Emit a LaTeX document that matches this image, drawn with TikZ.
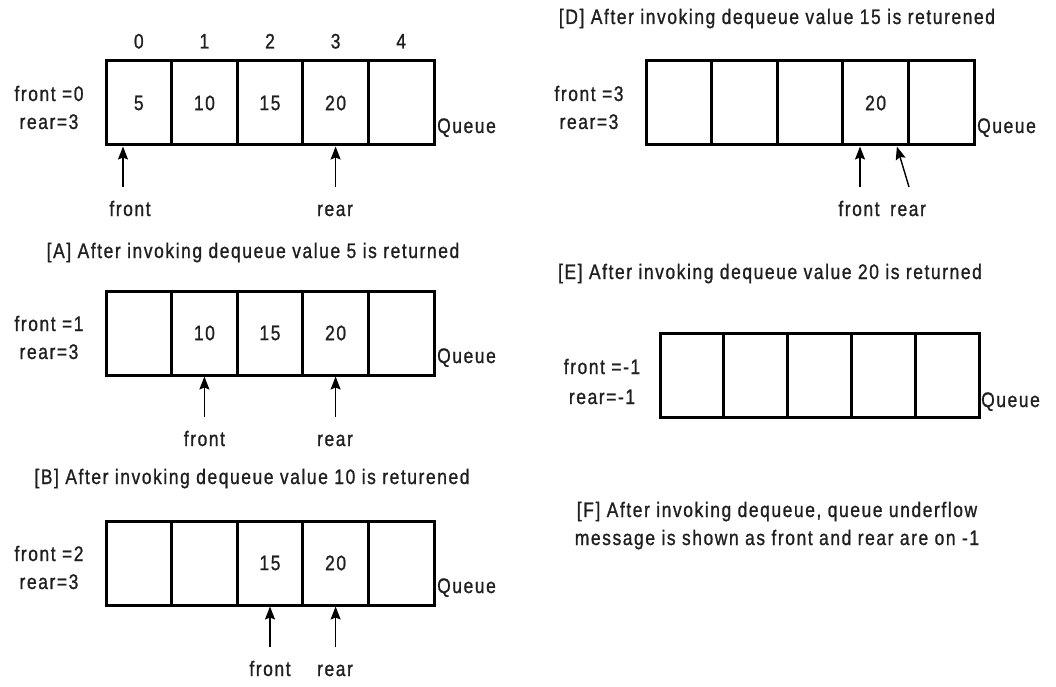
\documentclass[tikz,border=0pt]{standalone}
\usepackage{fontspec}
\setmainfont{Liberation Sans}[FakeStretch=0.83, LetterSpace=7.5, FakeBold=1]
\usetikzlibrary{arrows.meta,calc}
\newcommand{\qrow}[5]{%
  \foreach \v [count=\i from 0] in {#5} {
    \node[cell, minimum width=#4pt] (#1\i) at ({#2+#4*(\i+0.5)}, #3) {\v};
  }%
}
\begin{document}
\begin{tikzpicture}[x=1pt,y=-1pt,
  every node/.style={font=\fontsize{21}{25}\selectfont, text=black!88, inner sep=0pt},
  cell/.style={draw=black, line width=3pt, minimum height=84pt, outer sep=1.5pt},
  lbl/.style={anchor=base},
  qlbl/.style={anchor=base west},
  ptr/.style={line width=1.4pt, -{Stealth[length=13pt,width=10pt,inset=2pt]}}]
\useasboundingbox (0,0) rectangle (1056,687);

% ---------- top panel ----------
\qrow{p}{106}{103}{65.6}{5,10,15,20,{}}
\foreach \i in {0,...,4} { \node[lbl] (idx\i) at ($(p\i.north)+(0,-11)$) {\i}; }
\node[lbl] (pf) at (49,101) {front =0};
\node[lbl] (pr) at (49,129) {rear=3};
\node[qlbl] (pq) at (437,133) {Queue};
\node[lbl] (pfl) at (130,216) {front};
\node[lbl] (prl) at (335,216) {rear};
\coordinate (pft) at (123,187);
\coordinate (prt) at (335.6,187);
\draw[ptr] (pft) -- (pft |- p0.south);
\draw[ptr] (prt) -- (prt |- p3.south);

% ---------- panel A ----------
\node[lbl] (ta) at (253,258) {[A] After invoking dequeue value 5 is returned};
\qrow{a}{106}{333}{65.6}{{},10,15,20,{}}
\node[lbl] (af) at (49,331) {front =1};
\node[lbl] (ar) at (49,359) {rear=3};
\node[qlbl] (aq) at (437,363) {Queue};
\node[lbl] (afl) at (204.4,446) {front};
\node[lbl] (arl) at (335,446) {rear};
\coordinate (aft) at (204.4,417);
\coordinate (art) at (335.6,417);
\draw[ptr] (aft) -- (aft |- a1.south);
\draw[ptr] (art) -- (art |- a3.south);

% ---------- panel B ----------
\node[lbl] (tb) at (252,484) {[B] After invoking dequeue value 10 is returened};
\qrow{b}{106}{563}{65.6}{{},{},15,20,{}}
\node[lbl] (bf) at (49,561) {front =2};
\node[lbl] (br) at (49,589) {rear=3};
\node[qlbl] (bq) at (437,593) {Queue};
\node[lbl] (bfl) at (270,676) {front};
\node[lbl] (brl) at (335,676) {rear};
\coordinate (bft) at (270,647);
\coordinate (brt) at (335.6,647);
\draw[ptr] (bft) -- (bft |- b2.south);
\draw[ptr] (brt) -- (brt |- b3.south);

% ---------- panel D ----------
\node[lbl] (td) at (777,24) {[D] After invoking dequeue value 15 is returened};
\qrow{d}{646}{103}{65.6}{{},{},{},20,{}}
\node[lbl] (df) at (589,101) {front =3};
\node[lbl] (dr) at (589,129) {rear=3};
\node[qlbl] (dq) at (977,133) {Queue};
\node[lbl] (dfl) at (859,216) {front};
\node[lbl] (drl) at (908,216) {rear};
\coordinate (dft) at (860,187);
\coordinate (drt) at (909,187);
\draw[ptr] (dft) -- (dft |- d3.south);
\draw[ptr] (drt) -- ($(d3.south east)+(-13,0)$);

% ---------- panel E ----------
\node[lbl] (te) at (770,279) {[E] After invoking dequeue value 20 is returned};
\qrow{e}{660}{375}{63.8}{{},{},{},{},{}}
\node[lbl] (ef) at (602,374) {front =-1};
\node[lbl] (er) at (602,404) {rear=-1};
\node[qlbl] (eq) at (981,407) {Queue};

% ---------- panel F ----------
\node[lbl] (tf1) at (777,517) {[F] After invoking dequeue, queue underflow};
\node[lbl] (tf2) at (777,545) {message is shown as front and rear are on -1};
\end{tikzpicture}
\end{document}
